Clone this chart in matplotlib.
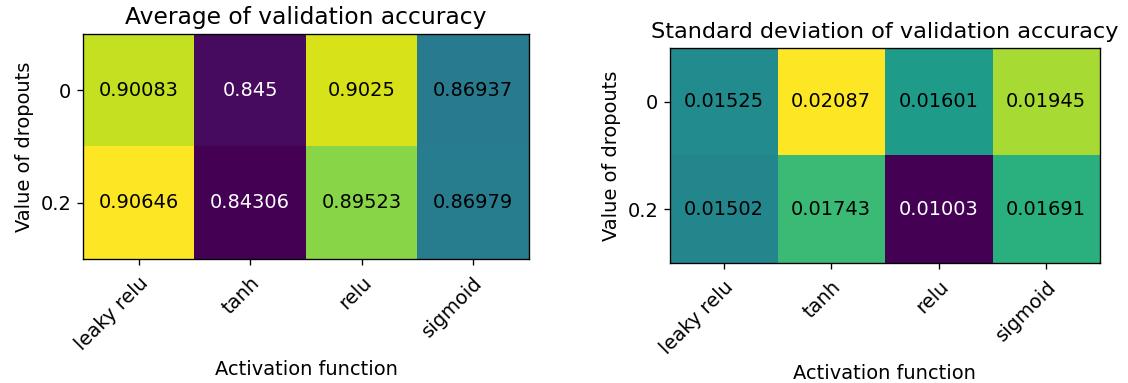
import matplotlib
matplotlib.use("Agg")
import matplotlib.pyplot as plt
import numpy as np

activations = ["leaky relu", "tanh", "relu", "sigmoid"]
dropouts = ["0", "0.2"]
mean_acc = [[0.90083, 0.845, 0.9025, 0.86937],
            [0.90646, 0.84306, 0.89523, 0.86979]]
std_acc = [[0.01525, 0.02087, 0.01601, 0.01945],
           [0.01502, 0.01743, 0.01003, 0.01691]]

FS = 11.6

fig = plt.figure(figsize=(9.408, 3.192), dpi=120)
ax1 = fig.add_axes([0.0735, 0.3238, 0.3950, 0.5875])
ax2 = fig.add_axes([0.5934, 0.3133, 0.3809, 0.5614])


def heatmap(ax, values, title, title_fs):
    data = np.array(values)
    im = ax.imshow(data, cmap="viridis", aspect="auto")
    lo, hi = data.min(), data.max()
    for i in range(data.shape[0]):
        for j in range(data.shape[1]):
            frac = (data[i, j] - lo) / (hi - lo)
            color = "white" if frac < 0.3 else "black"
            ax.text(j, i, f"{data[i, j]:g}", ha="center", va="center",
                    color=color, fontsize=FS)
    ax.set_xticks(range(len(activations)))
    ax.set_xticklabels(activations, rotation=45, ha="right",
                       rotation_mode="anchor", fontsize=FS)
    ax.tick_params(axis="x", pad=5)
    ax.set_yticks(range(len(dropouts)))
    ax.set_yticklabels(dropouts, fontsize=FS)
    ax.set_xlabel("Activation function", fontsize=FS)
    ax.set_ylabel("Value of dropouts", fontsize=FS)
    ax.set_title(title, fontsize=title_fs)
    return im


heatmap(ax1, mean_acc, "Average of validation accuracy", 14)
heatmap(ax2, std_acc, "Standard deviation of validation accuracy", 13.4)

fig.savefig("out.png", dpi=120)
